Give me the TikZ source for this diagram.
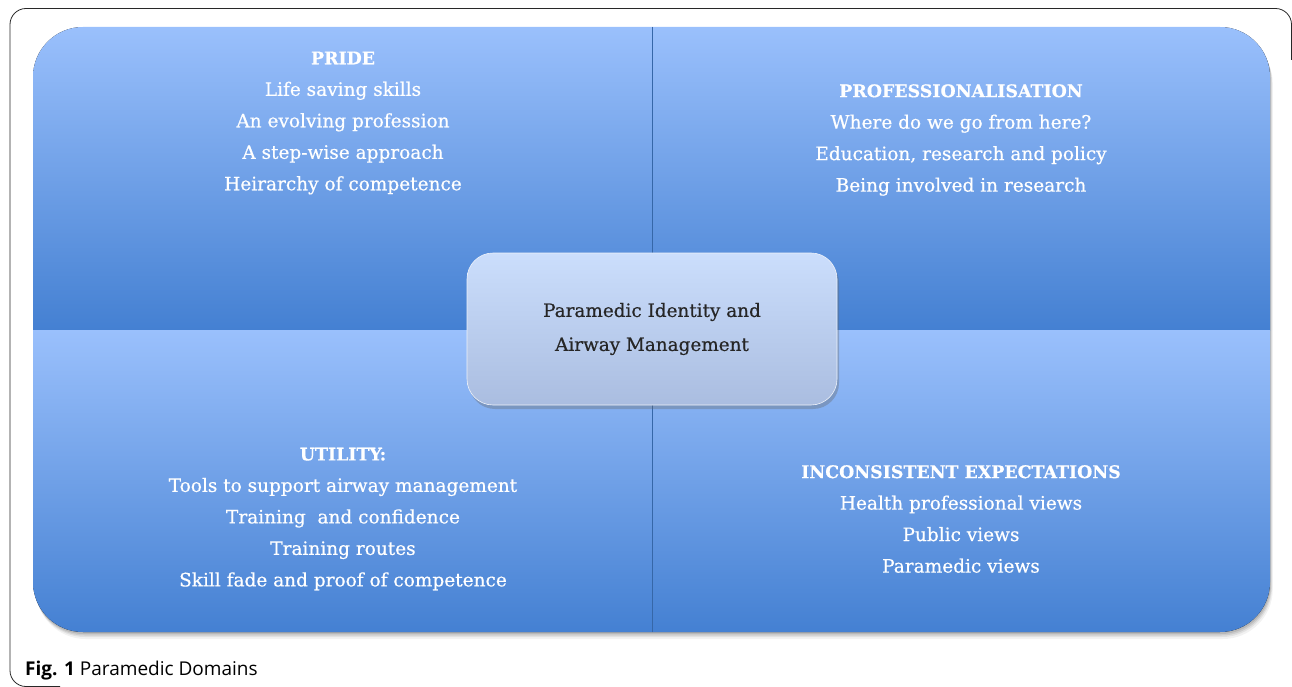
\documentclass[tikz,border=0pt]{standalone}
\usepackage{fontspec}
\setmainfont{DejaVu Serif}
\newfontfamily\qfont{DejaVu Serif}[FakeBold=0.5]
\newfontfamily\capfont{Open Sans}
\usetikzlibrary{shadows}
\definecolor{qtop}{RGB}{154,192,252}
\definecolor{qbot}{RGB}{68,128,210}
\definecolor{ctop}{RGB}{203,222,252}
\definecolor{cbot}{RGB}{170,189,224}
\definecolor{frame}{RGB}{40,40,40}
\newcommand{\qhead}[1]{{\fontsize{17.4}{31.5}\selectfont\bfseries #1}}
\tikzset{
  quad/.style={top color=qtop, bottom color=qbot},
  qtext/.style={text=white, align=center, font=\qfont\fontsize{18.5}{31.5}\selectfont},
  centerbox/.style={rounded corners=26, top color=ctop, bottom color=cbot, draw=white!80!cbot, line width=0.6,
    minimum width=370, minimum height=152, align=center, text=black!85,
    font=\qfont\fontsize{18.4}{34}\selectfont,
    drop shadow={shadow xshift=2pt, shadow yshift=-4pt, opacity=0.35, fill=black!60}},
}
\begin{document}
\begin{tikzpicture}[x=1pt,y=-1pt]
\useasboundingbox (0,0) rectangle (1292,687);
% outer frame
\draw[frame, line width=0.8, rounded corners=16] (1291.5,60) -- (1291.5,8.5) -- (10,8.5) -- (10,686.5) -- (60,686.5);
% shadow of quadrant block
\foreach \o/\a in {7/0.05,5/0.07,3.5/0.09,2/0.1}{
  \fill[black, opacity=\a, rounded corners=50] (33+\o*0.4,27+\o) rectangle (1270+\o*0.4,632+\o);
}
\begin{scope}
\clip[rounded corners=50] (33,27) rectangle (1270,632);
\fill[quad] (33,27) rectangle (652,330);
\fill[quad] (652,27) rectangle (1271,330);
\fill[quad] (33,330) rectangle (652,633);
\fill[quad] (652,330) rectangle (1271,633);
\draw[qbot!80!black, line width=0.5] (652,27) -- (652,632);
\end{scope}
% texts
\node[qtext] (pride) at (343,123) {\qhead{PRIDE}\\Life saving skills\\An evolving profession\\A step-wise approach\\Heirarchy of competence};
\node[qtext] (prof) at (961,140) {\qhead{PROFESSIONALISATION}\\Where do we go from here?\\Education, research and policy\\Being involved in research};
\node[qtext] (util) at (343,519) {\qhead{UTILITY:}\\Tools to support airway management\\Training\ \ and confidence\\Training routes\\Skill fade and proof of competence};
\node[qtext] (incons) at (961,519) {\qhead{INCONSISTENT EXPECTATIONS}\\Health professional views\\Public views\\Paramedic views};
\node[centerbox] (center) at (652,329) {Paramedic Identity and\\Airway Management};
% caption
\node[anchor=base west, inner sep=0, font=\capfont\fontsize{19}{22}\selectfont] (cap) at (25,675) {\textbf{Fig. 1} Paramedic Domains};
\end{tikzpicture}
\end{document}
